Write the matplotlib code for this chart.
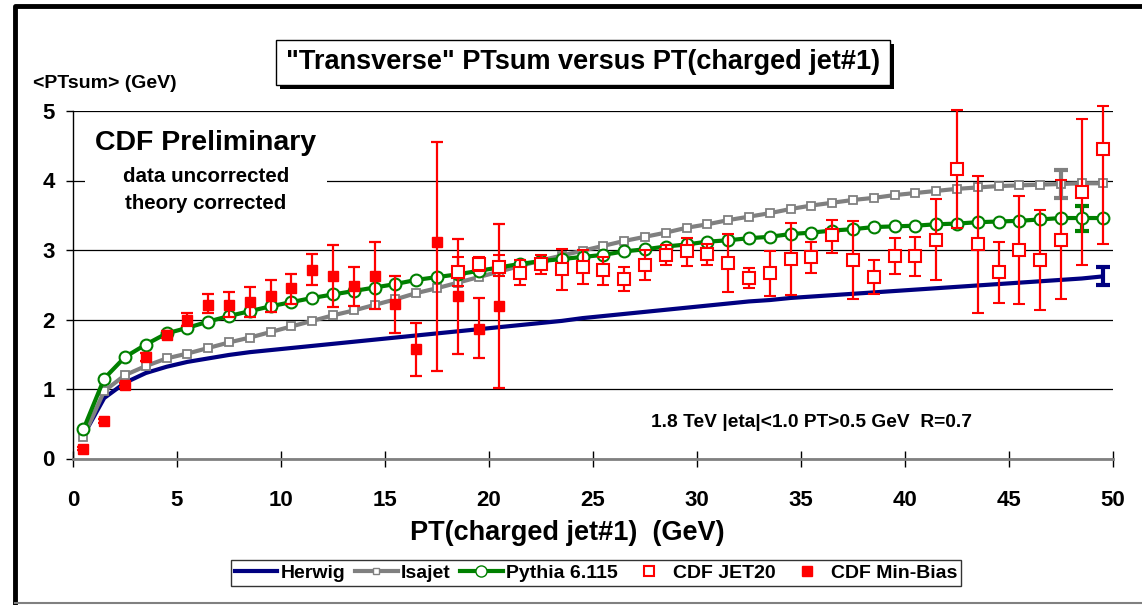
import numpy as np
import matplotlib.pyplot as plt
from matplotlib.patches import Rectangle
from matplotlib.lines import Line2D

plt.rcParams['font.family'] = ['Liberation Sans', 'DejaVu Sans']
plt.rcParams['font.weight'] = 'bold'

# theory curves, one point per 1 GeV bin (bin centres)
pt_theory = np.arange(0.5, 50, 1.0)
herwig = [0.33, 0.87, 1.09, 1.23, 1.32, 1.39, 1.44, 1.49, 1.53, 1.56,
          1.59, 1.62, 1.65, 1.68, 1.71, 1.74, 1.77, 1.80, 1.83, 1.86,
          1.89, 1.92, 1.95, 1.98, 2.02, 2.05, 2.08, 2.11, 2.14, 2.17,
          2.20, 2.23, 2.26, 2.28, 2.31, 2.33, 2.35, 2.37, 2.39, 2.41,
          2.43, 2.45, 2.47, 2.49, 2.51, 2.53, 2.55, 2.57, 2.59, 2.62]
isajet = [0.31, 0.97, 1.20, 1.33, 1.44, 1.51, 1.59, 1.67, 1.74, 1.82,
          1.90, 1.98, 2.06, 2.13, 2.21, 2.29, 2.38, 2.45, 2.53, 2.61,
          2.69, 2.77, 2.85, 2.92, 2.99, 3.06, 3.13, 3.19, 3.25, 3.32,
          3.37, 3.43, 3.48, 3.53, 3.59, 3.64, 3.68, 3.72, 3.75, 3.79,
          3.82, 3.85, 3.88, 3.90, 3.92, 3.93, 3.94, 3.95, 3.96, 3.96]
pythia = [0.42, 1.15, 1.46, 1.64, 1.80, 1.88, 1.97, 2.05, 2.12, 2.19,
          2.25, 2.31, 2.36, 2.41, 2.46, 2.51, 2.57, 2.61, 2.65, 2.70,
          2.75, 2.80, 2.84, 2.87, 2.90, 2.93, 2.98, 3.01, 3.05, 3.08,
          3.12, 3.14, 3.17, 3.19, 3.23, 3.25, 3.28, 3.30, 3.33, 3.34,
          3.35, 3.37, 3.38, 3.40, 3.41, 3.42, 3.44, 3.46, 3.46, 3.46]

# single theory error bars at the high end
herwig_err_x, herwig_err_lo, herwig_err_hi = 49.5, 2.50, 2.75
isajet_err_x, isajet_err_lo, isajet_err_hi = 47.5, 3.75, 4.15
pythia_err_x, pythia_err_lo, pythia_err_hi = 48.5, 3.27, 3.63

# CDF Min-Bias data
mb_pt = np.arange(0.5, 21, 1.0)
mb_val = [0.14, 0.54, 1.06, 1.46, 1.78, 2.00, 2.21, 2.21, 2.25, 2.34,
          2.45, 2.71, 2.62, 2.48, 2.63, 2.22, 1.57, 3.12, 2.34, 1.87, 2.19]
mb_lo = [0.12, 0.51, 1.03, 1.40, 1.73, 1.90, 2.09, 2.04, 2.04, 2.11,
         2.23, 2.49, 2.18, 2.20, 2.15, 1.81, 1.19, 1.26, 1.51, 1.44, 1.01]
mb_hi = [0.16, 0.57, 1.09, 1.52, 1.83, 2.10, 2.36, 2.39, 2.47, 2.57,
         2.66, 2.94, 3.07, 2.76, 3.11, 2.62, 1.95, 4.56, 3.16, 2.31, 3.38]

# CDF JET20 data
j20_pt = np.arange(18.5, 50, 1.0)
j20_val = [2.69, 2.80, 2.76, 2.67, 2.80, 2.73, 2.76, 2.71, 2.58, 2.79,
           2.93, 2.98, 2.94, 2.82, 2.60, 2.67, 2.87, 2.90, 3.21, 2.86,
           2.61, 2.91, 2.91, 3.15, 4.17, 3.08, 2.68, 3.00, 2.85, 3.15,
           3.84, 4.46]
j20_lo = [2.48, 2.70, 2.62, 2.50, 2.66, 2.43, 2.51, 2.49, 2.41, 2.57,
          2.78, 2.77, 2.78, 2.40, 2.45, 2.34, 2.35, 2.67, 2.96, 2.30,
          2.36, 2.66, 2.62, 2.57, 3.31, 2.09, 2.24, 2.23, 2.13, 2.29,
          2.79, 3.08]
j20_hi = [2.90, 2.90, 2.93, 2.86, 2.93, 3.02, 3.00, 2.90, 2.76, 3.00,
          3.07, 3.17, 3.08, 3.23, 2.74, 2.99, 3.39, 3.12, 3.43, 3.42,
          2.85, 3.17, 3.19, 3.73, 5.02, 4.07, 3.12, 3.77, 3.57, 4.01,
          4.88, 5.07]

W, H = 1142, 605
fig = plt.figure(figsize=(W / 100, H / 100), dpi=100)
ax = fig.add_axes([73 / W, 1 - 458.5 / H, 1040 / W, 347.5 / H])

ax.set_xlim(0, 50)
ax.set_ylim(0, 5)
ax.set_xticks(range(0, 51, 5))
ax.set_yticks(range(0, 6))
ax.yaxis.grid(True, color='black', lw=0.9, zorder=0)
ax.set_axisbelow(True)
for s in ['top', 'right']:
    ax.spines[s].set_visible(False)
ax.spines['left'].set_linewidth(1.0)
ax.spines['bottom'].set_color('#808080')
ax.spines['bottom'].set_linewidth(2)
ax.tick_params(axis='x', direction='inout', length=11, width=1, labelsize=16, pad=17)
ax.tick_params(axis='y', direction='out', length=5, width=1, labelsize=16, pad=8)

ax.plot(pt_theory, herwig, color='#000080', lw=3, zorder=3, clip_on=False)
ax.plot(pt_theory, isajet, color='#808080', lw=3, marker='s', ms=5.5,
        mfc='white', mec='#808080', mew=1.3, zorder=3, clip_on=False)
ax.plot(pt_theory, pythia, color='#008000', lw=3, marker='o', ms=8.5,
        mfc='white', mec='#008000', mew=1.5, zorder=4, clip_on=False)

ax.errorbar([herwig_err_x], [(herwig_err_lo + herwig_err_hi) / 2],
            yerr=[[(herwig_err_hi - herwig_err_lo) / 2]] * 2, fmt='none',
            ecolor='#000080', elinewidth=3, capsize=5, capthick=3, zorder=3)
ax.errorbar([isajet_err_x], [(isajet_err_lo + isajet_err_hi) / 2],
            yerr=[[(isajet_err_hi - isajet_err_lo) / 2]] * 2, fmt='none',
            ecolor='#808080', elinewidth=3, capsize=5, capthick=3, zorder=3)
ax.errorbar([pythia_err_x], [(pythia_err_lo + pythia_err_hi) / 2],
            yerr=[[(pythia_err_hi - pythia_err_lo) / 2]] * 2, fmt='none',
            ecolor='#008000', elinewidth=3, capsize=5, capthick=3, zorder=3)

mb_val = np.array(mb_val)
j20_val = np.array(j20_val)
ax.errorbar(mb_pt, mb_val, yerr=[mb_val - np.array(mb_lo), np.array(mb_hi) - mb_val],
            fmt='s', color='red', ms=7, mfc='red', mec='red', elinewidth=1.6,
            capsize=4.5, capthick=1.6, zorder=5, clip_on=False)
ax.errorbar(j20_pt, j20_val, yerr=[j20_val - np.array(j20_lo), np.array(j20_hi) - j20_val],
            fmt='s', color='red', ms=8, mfc='white', mec='red', mew=1.5,
            elinewidth=1.6, capsize=4.5, capthick=1.6, zorder=5, clip_on=False)

# text block upper left (white background hides the 4 GeV grid line)
fig.patches.append(Rectangle((85 / W, 1 - 215 / H), 242 / W, 95 / H,
                             transform=fig.transFigure, facecolor='white',
                             edgecolor='none', zorder=2))
fig.text(206 / W, 1 - 143 / H, 'CDF Preliminary', ha='center', va='center',
         fontsize=20.5, fontweight='bold')
fig.text(206 / W, 1 - 176 / H, 'data uncorrected', ha='center', va='center',
         fontsize=14.8, fontweight='bold')
fig.text(206 / W, 1 - 203 / H, 'theory corrected', ha='center', va='center',
         fontsize=14.8, fontweight='bold')

ax.text(27.8, 0.525, '1.8 TeV |eta|<1.0 PT>0.5 GeV  R=0.7',
        ha='left', va='center', fontsize=13.8, fontweight='bold')

# title box with shadow
fig.patches.append(Rectangle((280 / W, 1 - 89 / H), 614 / W, 45 / H,
                             transform=fig.transFigure, facecolor='black',
                             edgecolor='none'))
fig.patches.append(Rectangle((276 / W, 1 - 85 / H), 614 / W, 45 / H,
                             transform=fig.transFigure, facecolor='white',
                             edgecolor='black', lw=1))
fig.text(583 / W, 1 - 62 / H, '"Transverse" PTsum versus PT(charged jet#1)',
         ha='center', va='center', fontsize=19.5, fontweight='bold')

fig.text(33 / W, 1 - 84 / H, '<PTsum> (GeV)', ha='left', va='center',
         fontsize=14, fontweight='bold')
fig.text(567 / W, 1 - 533 / H, 'PT(charged jet#1)  (GeV)', ha='center',
         va='center', fontsize=19.5, fontweight='bold')

# outer frame
fig.add_artist(Line2D([15 / W, 15 / W, 1142 / W], [1 - 603 / H, 1 - 6 / H, 1 - 6 / H],
                      transform=fig.transFigure, color='black', lw=3.5))
fig.add_artist(Line2D([15 / W, 1142 / W], [1 - 603 / H, 1 - 603 / H],
                      transform=fig.transFigure, color='#808080', lw=1.5))

handles = [
    Line2D([], [], color='#000080', lw=3),
    Line2D([], [], color='#808080', lw=3, marker='s', ms=5, mfc='white', mec='#808080'),
    Line2D([], [], color='#008000', lw=3, marker='o', ms=8, mfc='white', mec='#008000'),
    Line2D([], [], ls='none', marker='s', ms=7, mfc='white', mec='red', mew=1.5),
    Line2D([], [], ls='none', marker='s', ms=7, mfc='red', mec='red'),
]
labels = ['Herwig', 'Isajet', 'Pythia 6.115', 'CDF JET20', 'CDF Min-Bias']
leg = fig.legend(handles, labels, loc='center', bbox_to_anchor=(596 / W, 1 - 573 / H),
                 ncol=5, frameon=True, fancybox=False, edgecolor='black',
                 handlelength=2.2, handletextpad=0.15, columnspacing=0.5,
                 borderpad=0.2, prop={'weight': 'bold', 'size': 14})
leg.get_frame().set_linewidth(1)

fig.savefig('out.png', dpi=100)
